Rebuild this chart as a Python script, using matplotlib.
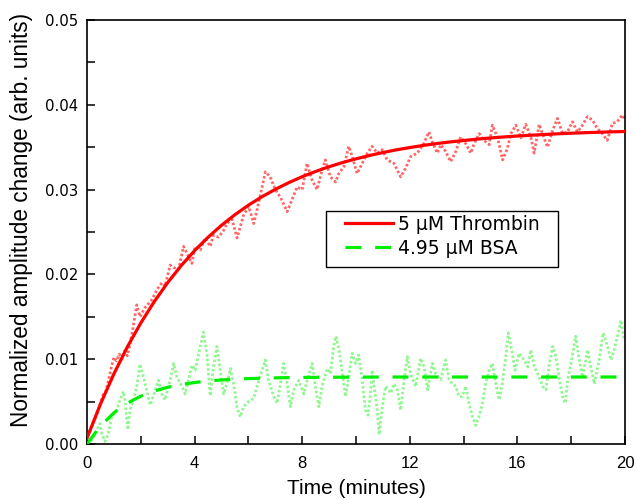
import matplotlib
matplotlib.use("Agg")
import matplotlib.pyplot as plt
from matplotlib.ticker import MultipleLocator
from matplotlib.patches import Rectangle

plt.rcParams['font.family'] = ['Liberation Sans', 'DejaVu Sans']

# ---- data ----
red_t = [0.0, 0.1, 0.2, 0.3, 0.4, 0.5, 0.6, 0.7, 0.8, 0.9, 1.0, 1.1, 1.2, 1.3, 1.4, 1.5, 1.6, 1.7,
         1.85, 1.97, 2.16, 2.41, 2.6, 2.78, 2.9, 3.09, 3.22, 3.4, 3.59, 3.77, 3.9, 4.02, 4.21, 4.4,
         4.58, 4.7, 4.89, 5.08, 5.2, 5.39, 5.58, 5.82, 6.01, 6.2, 6.32, 6.51, 6.63, 6.81, 7.0, 7.19,
         7.44, 7.62, 7.81, 8.0, 8.18, 8.37, 8.55, 8.74, 8.86, 9.05, 9.24, 9.36, 9.55, 9.73, 9.86,
         10.04, 10.23, 10.42, 10.6, 10.79, 10.97, 11.16, 11.41, 11.66, 11.84, 12.03, 12.28, 12.53,
         12.71, 12.84, 13.02, 13.15, 13.33, 13.52, 13.71, 13.89, 14.08, 14.27, 14.39, 14.58, 14.76,
         14.95, 15.07, 15.26, 15.45, 15.63, 15.76, 15.94, 16.13, 16.31, 16.5, 16.62, 16.81, 16.93,
         17.12, 17.31, 17.49, 17.68, 17.86, 18.05, 18.23, 18.42, 18.6, 18.79, 18.97, 19.16, 19.34,
         19.53, 19.71, 19.9, 20.0]
red_y = [0.0010, 0.0015, 0.0022, 0.0030, 0.0038, 0.0048, 0.0058, 0.0062, 0.0075, 0.0090, 0.0102,
         0.0098, 0.0106, 0.0100, 0.0110, 0.0104, 0.0118, 0.0135, 0.0164, 0.0150, 0.0161, 0.0170,
         0.0182, 0.0190, 0.0186, 0.0211, 0.0208, 0.0206, 0.0233, 0.0221, 0.0213, 0.0233, 0.0229,
         0.0243, 0.0233, 0.0246, 0.0244, 0.0252, 0.0260, 0.0265, 0.0243, 0.0270, 0.0280, 0.0260,
         0.0276, 0.0303, 0.0321, 0.0315, 0.0300, 0.0291, 0.0274, 0.0288, 0.0303, 0.0300, 0.0331,
         0.0311, 0.0300, 0.0323, 0.0335, 0.0315, 0.0309, 0.0319, 0.0327, 0.0351, 0.0339, 0.0319,
         0.0331, 0.0343, 0.0351, 0.0343, 0.0347, 0.0335, 0.0331, 0.0315, 0.0325, 0.0339, 0.0343,
         0.0355, 0.0368, 0.0356, 0.0343, 0.0353, 0.0345, 0.0333, 0.0345, 0.0362, 0.0354, 0.0343,
         0.0354, 0.0366, 0.0358, 0.0353, 0.0376, 0.0362, 0.0335, 0.0349, 0.0366, 0.0376, 0.0361,
         0.0377, 0.0362, 0.0343, 0.0377, 0.0366, 0.0350, 0.0370, 0.0384, 0.0366, 0.0368, 0.0380,
         0.0368, 0.0376, 0.0386, 0.0382, 0.0372, 0.0366, 0.0358, 0.0378, 0.0380, 0.0388, 0.0382]

green_t = [0.0, 0.05, 0.24, 0.36, 0.48, 0.55, 0.67, 0.79, 0.92, 1.1, 1.23, 1.35, 1.41, 1.48, 1.52,
           1.6, 1.73, 1.85, 1.97, 2.1, 2.22, 2.35, 2.53, 2.66, 2.78, 2.9, 3.09, 3.22, 3.34, 3.53,
           3.65, 3.77, 3.9, 4.02, 4.21, 4.33, 4.46, 4.58, 4.7, 4.83, 4.95, 5.08, 5.2, 5.33, 5.45,
           5.57, 5.7, 5.82, 6.01, 6.2, 6.32, 6.51, 6.63, 6.75, 6.94, 7.07, 7.19, 7.31, 7.44, 7.56,
           7.68, 7.87, 8.06, 8.18, 8.37, 8.49, 8.62, 8.74, 8.93, 9.05, 9.17, 9.26, 9.39, 9.51, 9.61,
           9.73, 9.86, 9.98, 10.1, 10.23, 10.35, 10.45, 10.54, 10.6, 10.66, 10.79, 10.86, 10.98,
           11.1, 11.29, 11.41, 11.54, 11.66, 11.79, 11.91, 12.03, 12.22, 12.4, 12.53, 12.66, 12.84,
           12.96, 13.15, 13.33, 13.46, 13.58, 13.71, 13.83, 13.95, 14.08, 14.2, 14.33, 14.45, 14.57,
           14.7, 14.82, 14.95, 15.07, 15.2, 15.32, 15.44, 15.57, 15.66, 15.79, 15.91, 16.06, 16.25,
           16.38, 16.5, 16.63, 16.81, 16.94, 17.06, 17.19, 17.31, 17.43, 17.56, 17.68, 17.78, 17.87,
           17.99, 18.17, 18.3, 18.42, 18.61, 18.73, 18.86, 19.04, 19.19, 19.35, 19.48, 19.6, 19.72,
           19.85, 19.97]
green_y = [0.0000, 0.0001, 0.0007, 0.0016, 0.0024, 0.0012, 0.0003, 0.0012, 0.0032, 0.0040, 0.0052,
           0.0062, 0.0052, 0.0028, 0.0017, 0.0040, 0.0052, 0.0068, 0.0094, 0.0079, 0.0063, 0.0046,
           0.0063, 0.0075, 0.0059, 0.0052, 0.0075, 0.0095, 0.0079, 0.0068, 0.0059, 0.0075, 0.0093,
           0.0087, 0.0115, 0.0132, 0.0106, 0.0057, 0.0091, 0.0115, 0.0087, 0.0059, 0.0071, 0.0089,
           0.0071, 0.0044, 0.0032, 0.0044, 0.0050, 0.0054, 0.0068, 0.0087, 0.0099, 0.0075, 0.0056,
           0.0048, 0.0071, 0.0095, 0.0071, 0.0044, 0.0063, 0.0075, 0.0059, 0.0075, 0.0095, 0.0068,
           0.0044, 0.0068, 0.0089, 0.0083, 0.0115, 0.0127, 0.0107, 0.0079, 0.0056, 0.0079, 0.0107,
           0.0095, 0.0105, 0.0076, 0.0040, 0.0034, 0.0060, 0.0087, 0.0071, 0.0040, 0.0011, 0.0044,
           0.0068, 0.0060, 0.0071, 0.0064, 0.0040, 0.0076, 0.0103, 0.0083, 0.0068, 0.0101, 0.0091,
           0.0064, 0.0095, 0.0083, 0.0076, 0.0099, 0.0076, 0.0071, 0.0068, 0.0056, 0.0056, 0.0068,
           0.0048, 0.0032, 0.0022, 0.0032, 0.0048, 0.0071, 0.0087, 0.0095, 0.0071, 0.0052, 0.0071,
           0.0103, 0.0131, 0.0111, 0.0087, 0.0107, 0.0099, 0.0091, 0.0111, 0.0091, 0.0079, 0.0068,
           0.0064, 0.0095, 0.0115, 0.0103, 0.0076, 0.0056, 0.0048, 0.0076, 0.0095, 0.0127, 0.0099,
           0.0079, 0.0111, 0.0091, 0.0071, 0.0099, 0.0131, 0.0115, 0.0099, 0.0111, 0.0127, 0.0146,
           0.0123]

fit_t = [0.0, 0.5, 1.0, 1.5, 2.0, 2.5, 3.0, 3.5, 4.0, 4.5, 5.0, 5.5, 6.0, 6.5, 7.0, 7.5, 8.0, 8.5,
         9.0, 9.5, 10.0, 10.5, 11.0, 11.5, 12.0, 12.5, 13.0, 13.5, 14.0, 14.5, 15.0, 15.5, 16.0,
         16.5, 17.0, 17.5, 18.0, 18.5, 19.0, 19.5, 20.0]
red_fit = [0.00070, 0.00471, 0.00827, 0.01145, 0.01427, 0.01679, 0.01903, 0.02103, 0.02280,
           0.02438, 0.02579, 0.02704, 0.02816, 0.02915, 0.03003, 0.03082, 0.03152, 0.03214,
           0.03270, 0.03319, 0.03363, 0.03402, 0.03437, 0.03469, 0.03496, 0.03521, 0.03543,
           0.03562, 0.03579, 0.03595, 0.03609, 0.03621, 0.03632, 0.03641, 0.03650, 0.03658,
           0.03665, 0.03671, 0.03676, 0.03681, 0.03685]
green_fit = [0.0, 0.00212, 0.00367, 0.00481, 0.00564, 0.00624, 0.00669, 0.00701, 0.00725, 0.00743,
             0.00755, 0.00765, 0.00771, 0.00776, 0.00780, 0.00783, 0.00785, 0.00786, 0.00787,
             0.00788, 0.00789, 0.00789, 0.00790, 0.00790, 0.00790, 0.00790, 0.00790, 0.00790,
             0.00790, 0.00790, 0.00790, 0.00790, 0.00790, 0.00790, 0.00790, 0.00790, 0.00790,
             0.00790, 0.00790, 0.00790, 0.00790]

labels = ['5 \u03bcM Thrombin', '4.95 \u03bcM BSA']

# ---- figure ----
fig = plt.figure(figsize=(6.35, 4.99), dpi=100)
ax = fig.add_axes([87/635, 1-444/499, (625-87)/635, (444-20)/499])

RED = '#ff0000'
GREEN = '#00ee00'

ax.plot(red_t, red_y, color=RED, lw=2.0, ls=(0, (0.9, 0.8)), alpha=0.6, zorder=2)
ax.plot(green_t, green_y, color='#22ee22', lw=2.0, ls=(0, (0.9, 0.8)), alpha=0.5, zorder=2)
l1, = ax.plot(fit_t, red_fit, color=RED, lw=2.3, zorder=4, label=labels[0])
l2, = ax.plot(fit_t, green_fit, color=GREEN, lw=2.3, ls=(0, (5.0, 4.3)), zorder=4, label=labels[1])

ax.set_xlim(0, 20)
ax.set_ylim(0, 0.05)
ax.xaxis.set_major_locator(MultipleLocator(4))
ax.xaxis.set_minor_locator(MultipleLocator(2))
ax.yaxis.set_major_locator(MultipleLocator(0.01))
ax.yaxis.set_minor_locator(MultipleLocator(0.005))
ax.yaxis.set_major_formatter(plt.FuncFormatter(lambda v, p: f"{v:.2f}"))
ax.tick_params(which='both', direction='in', top=False, right=False, width=1.1)
ax.tick_params(which='major', length=6)
ax.tick_params(which='minor', length=6)
ax.tick_params(axis='x', which='major', labelsize=12, pad=8.5)
ax.tick_params(axis='y', which='major', labelsize=10.8, pad=6)
for lab in ax.get_yticklabels():
    lab.set_fontfamily(['DejaVu Sans'])
for s in ax.spines.values():
    s.set_linewidth(1.2)

ax.set_xlabel('Time (minutes)', fontsize=15, labelpad=6)
ax.set_ylabel('Normalized amplitude change (arb. units)', fontsize=16.3)
ax.yaxis.set_label_coords(-0.100, 0.528)

# legend frame (drawn separately to get the wider horizontal padding of the reference)
ax.add_patch(Rectangle((0.4442, 0.4175), 0.4313, 0.1320, transform=ax.transAxes,
                       facecolor='white', edgecolor='black', lw=1.0, zorder=5))
leg = ax.legend(handles=[l1, l2], loc='upper left', bbox_to_anchor=(0.4796, 0.5400),
                prop={'family': ['DejaVu Sans'], 'size': 13.5}, frameon=False,
                handlelength=2.55, handletextpad=0.25, borderpad=0.0, labelspacing=0.25,
                borderaxespad=0)
leg.set_zorder(6)

fig.savefig('out.png', dpi=100)
